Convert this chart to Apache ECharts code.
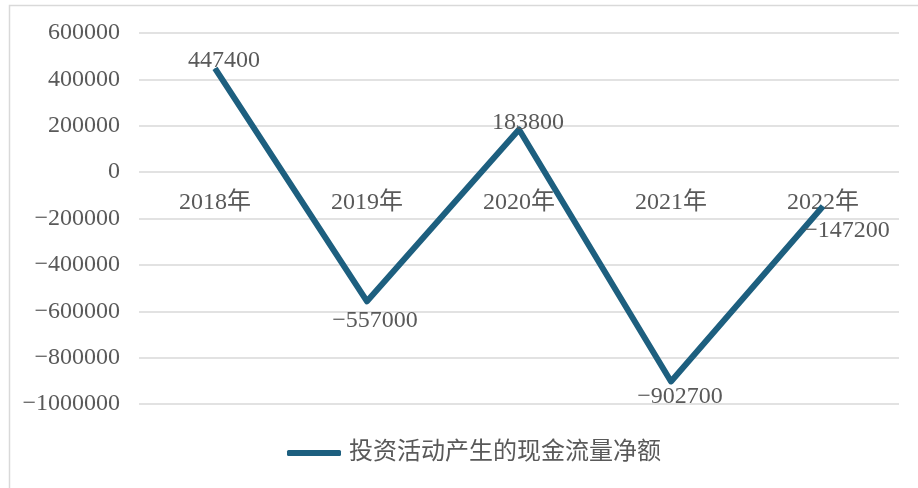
<!DOCTYPE html>
<html>
<head>
<meta charset="utf-8">
<script src="https://cdn.jsdelivr.net/npm/echarts@6/dist/echarts.min.js"></script>
<style>
html,body{margin:0;padding:0;background:#fff;}
#main{width:918px;height:488px;}
</style>
</head>
<body>
<div id="main"></div>
<script>
const categories = ['2018年', '2019年', '2020年', '2021年', '2022年'];
const seriesName = '投资活动产生的现金流量净额';
const values = [447400, -557000, 183800, -902700, -147200];
const yMin = -1000000, yMax = 600000, yInterval = 200000;

const FONT = "'Liberation Serif', 'Noto Sans CJK SC', serif";
const TXT = '#595959';
const fmt = v => (v < 0 ? '\u2212' + Math.abs(v) : String(v));

const labelCfg = [
  {position: 'top', offset: [9, 10]},
  {position: 'bottom', offset: [8, 2]},
  {position: 'top', offset: [9, 11]},
  {position: 'bottom', offset: [9, -2]},
  {position: 'bottom', offset: [24, 7]}
];

const chart = echarts.init(document.getElementById('main'), null, {renderer: 'canvas'});
chart.setOption({
  backgroundColor: '#fff',
  animation: false,
  graphic: [{
    type: 'rect', left: 7, top: 3,
    shape: {width: 925, height: 500},
    style: {fill: 'none', stroke: '#d9d9d9', lineWidth: 1.5},
    silent: true
  }],
  grid: {left: 139, right: 19, top: 33, bottom: 84},
  legend: {
    bottom: 18, left: 282,
    icon: 'roundRect', itemWidth: 54, itemHeight: 6, itemGap: 10,
    textStyle: {fontFamily: FONT, fontSize: 24, color: TXT, padding: [0, 0, 0, 3]},
    data: [seriesName]
  },
  xAxis: {
    type: 'category', data: categories, boundaryGap: true,
    axisLine: {show: false}, axisTick: {show: false},
    axisLabel: {show: false},
    splitLine: {show: false}
  },
  yAxis: {
    type: 'value', min: yMin, max: yMax, interval: yInterval,
    axisLine: {show: false}, axisTick: {show: false},
    axisLabel: {fontFamily: FONT, fontSize: 24, color: TXT, margin: 19, formatter: fmt},
    splitLine: {lineStyle: {color: '#d9d9d9', width: 1.5}}
  },
  series: [{
    name: seriesName, type: 'line',
    data: values.map((v, i) => ({value: v, label: labelCfg[i]})),
    symbol: 'circle', symbolSize: 1, showSymbol: true,
    lineStyle: {color: '#1d5f7f', width: 6, join: 'round'},
    itemStyle: {color: '#1d5f7f'},
    label: {show: true, fontFamily: FONT, fontSize: 24, color: TXT, formatter: p => fmt(p.value)},
    z: 3
  }, {
    name: 'categoryLabels', type: 'scatter',
    data: categories.map(c => ({name: c, value: [c, 0]})),
    symbolSize: 1, itemStyle: {color: 'rgba(0,0,0,0)', opacity: 1},
    label: {show: true, position: 'bottom', distance: 18, fontFamily: FONT, fontSize: 24, color: TXT, opacity: 1, formatter: p => p.name},
    silent: true, z: 1
  }]
});
</script>
</body>
</html>
